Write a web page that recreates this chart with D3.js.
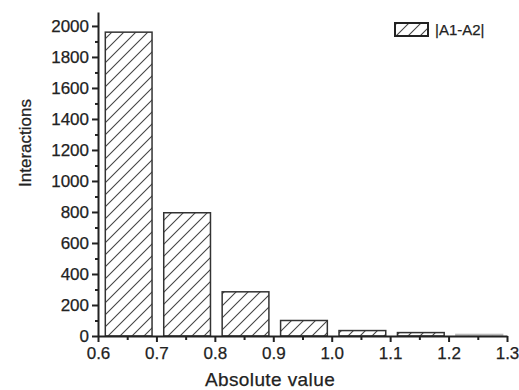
<!DOCTYPE html>
<html>
<head>
<meta charset="utf-8">
<script src="https://cdn.jsdelivr.net/npm/d3@7"></script>
<style>
  body { margin: 0; background: #fff; }
  svg text { font-family: "Liberation Sans", Arial, sans-serif; fill: #222; stroke: #222; stroke-width: 0.25px; }
</style>
</head>
<body>
<div id="chart"></div>
<script>
// bins of |A1-A2| (start of each 0.1 wide bin) and their counts
const binStarts = [0.6, 0.7, 0.8, 0.9, 1.0, 1.1, 1.2];
const counts = [1960, 795, 285, 100, 35, 22, 10];
const xTicks = [0.6, 0.7, 0.8, 0.9, 1.0, 1.1, 1.2, 1.3];
const xMinorTicks = [0.65, 0.75, 0.85, 0.95, 1.05, 1.15, 1.25];
const yTicks = [0, 200, 400, 600, 800, 1000, 1200, 1400, 1600, 1800, 2000];
const yMinorTicks = [100, 300, 500, 700, 900, 1100, 1300, 1500, 1700, 1900];
const seriesName = "|A1-A2|";

const W = 519, H = 390;
const x0 = 98, x1 = 507, yBase = 336, yTop = 12;

const svg = d3.select("#chart").append("svg")
  .attr("width", W).attr("height", H);

const defs = svg.append("defs");
defs.append("pattern")
  .attr("id", "hatch")
  .attr("patternUnits", "userSpaceOnUse")
  .attr("width", 12).attr("height", 12)
  .append("path")
  .attr("d", "M-3,3 l6,-6 M0,12 l12,-12 M9,15 l6,-6")
  .attr("stroke", "#444")
  .attr("stroke-width", 1.1);

const x = d3.scaleLinear().domain([0.6, 1.3]).range([x0, x1]);
const y = d3.scaleLinear().domain([0, 2090]).range([yBase, yTop]);

const data = binStarts.map((b, i) => ({start: b, count: counts[i]}));

// bars
svg.selectAll(".bar")
  .data(data)
  .enter()
  .append("rect")
  .attr("class", "bar")
  .attr("x", d => x(d.start + 0.0125))
  .attr("width", d => x(d.start + 0.0925) - x(d.start + 0.0125))
  .attr("y", d => y(d.count))
  .attr("height", d => yBase - y(d.count))
  .attr("fill", "url(#hatch)")
  .attr("stroke", (d, i) => i === binStarts.length - 1 ? "#bbb" : "#333")
  .attr("stroke-width", 1.5);

// x axis
svg.append("g")
  .attr("transform", `translate(0,${yBase})`)
  .call(d3.axisBottom(x).tickValues(xTicks).tickFormat(d3.format(".1f"))
    .tickSize(6).tickSizeOuter(0).tickPadding(5));
svg.append("g")
  .attr("transform", `translate(0,${yBase})`)
  .call(d3.axisBottom(x).tickValues(xMinorTicks).tickFormat("").tickSize(4).tickSizeOuter(0))
  .select(".domain").remove();

// y axis
svg.append("g")
  .attr("transform", `translate(${x0},0)`)
  .call(d3.axisLeft(y).tickValues(yTicks).tickFormat(d3.format("d"))
    .tickSize(6).tickSizeOuter(0).tickPadding(3));
svg.append("g")
  .attr("transform", `translate(${x0},0)`)
  .call(d3.axisLeft(y).tickValues(yMinorTicks).tickFormat("").tickSize(3).tickSizeOuter(0))
  .select(".domain").remove();

svg.selectAll(".domain").attr("stroke", "#222").attr("stroke-width", 2);
svg.selectAll(".tick line").attr("stroke", "#222").attr("stroke-width", 2);
svg.selectAll(".tick text").style("font-size", "17px").attr("fill", "#222");

// axis titles
svg.append("text")
  .attr("x", 270).attr("y", 386)
  .attr("text-anchor", "middle")
  .style("font-size", "19px")
  .style("letter-spacing", "0.4px")
  .text("Absolute value");

svg.append("text")
  .attr("transform", "translate(31,143) rotate(-90)")
  .attr("text-anchor", "middle")
  .style("font-size", "17px")
  .text("Interactions");

// legend
svg.append("rect")
  .attr("x", 395).attr("y", 23)
  .attr("width", 33).attr("height", 13)
  .attr("fill", "url(#hatch)")
  .attr("stroke", "#222")
  .attr("stroke-width", 2);
svg.append("text")
  .attr("x", 435).attr("y", 35)
  .style("font-size", "15px")
  .text(seriesName);
</script>
</body>
</html>
